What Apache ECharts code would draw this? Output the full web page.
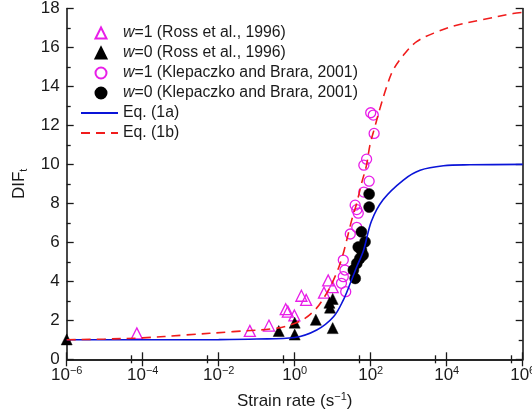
<!DOCTYPE html>
<html><head><meta charset="utf-8">
<script src="https://cdn.jsdelivr.net/npm/echarts@6/dist/echarts.min.js"></script>
<style>html,body{margin:0;padding:0;background:#fff}#c{width:532px;height:419px}</style>
</head><body><div id="c"></div>
<script>
// ---- data (strain rate [s^-1], DIF_t) ----
const rossW1 = [[7e-5,1.33],[0.066,1.46],[0.21,1.73],[0.58,2.57],[0.66,2.45],[0.98,2.25],[1.5,3.26],[2.0,3.05],[5.9,3.42],[7.6,4.05],[10,3.7]];
const rossW0 = [[1e-6,1.02],[0.38,1.45],[1.0,1.88],[1.0,1.27],[3.6,2.03],[8.5,2.65],[8.2,2.9],[10,3.1],[10,1.6]];
const klepW1 = [[100,12.65],[117,12.53],[123,11.59],[78,10.27],[66,9.96],[91,9.14],[66,8.58],[39,7.91],[43,7.68],[47,7.5],[43,6.77],[29,6.43],[19,5.09],[21,4.58],[19,4.24],[17,3.9],[22,3.47]];
const klepW0 = [[91,8.48],[91,7.81],[57,6.54],[71,6.03],[57,5.6],[63,5.35],[52,5.18],[47,5.76],[43,4.92],[35,4.58],[39,4.15]];
const eq1a = [[1e-6,1.0],[1e-4,1.0],[1e-2,1.01],[0.1,1.04],[1,1.12],[3.8,1.5],[10.5,2.18],[19,3.04],[29,3.9],[43,4.75],[65,5.6],[105,7.1],[214,8.2],[725,9.2],[2000,9.7],[8200,9.93],[41000,9.98],[1e6,10.0]];
const eq1b = [[1e-6,1.0],[1e-5,1.04],[1e-4,1.1],[1.4e-3,1.25],[2.4e-2,1.42],[0.34,1.6],[1.4,1.96],[3.4,2.53],[6.9,3.38],[11.5,4.24],[17.4,5.18],[23.4,6.12],[31.6,7.14],[42.7,8.0],[57.5,9.03],[77.6,9.96],[95.5,10.99],[129,11.93],[174,12.85],[263,13.98],[389,14.84],[724,15.6],[1620,16.3],[5500,16.8],[18200,17.14],[76000,17.4],[560000,17.74],[1e6,17.8]];
const seriesNames = ['w=1 (Ross et al., 1996)','w=0 (Ross et al., 1996)','w=1 (Klepaczko and Brara, 2001)','w=0 (Klepaczko and Brara, 2001)','Eq. (1a)','Eq. (1b)'];
const yTicks = [0,2,4,6,8,10,12,14,16,18];

const FONT = '"Liberation Sans", Arial, sans-serif';
const MAG = '#e81ee8', BLUE = '#0a14d8', RED = '#f01c1c', INK = '#1a1a1a';
const chart = echarts.init(document.getElementById('c'), null, {renderer:'canvas'});
const sup = {fontSize: 11, fontFamily: FONT, color: INK, verticalAlign: 'top', lineHeight: 12};
const base = {fontSize: 17, fontFamily: FONT, color: INK, lineHeight: 20};
function xLab(v){
  const e = Math.round(Math.log10(v));
  if (e % 2 !== 0) return '';
  return '{b|10}{s|' + (e < 0 ? '\u2212' + (-e) : String(e)) + '}';
}
const lineSt = {show:true, lineStyle:{color:INK, width:1.6}};
const xCommon = {type:'log', logBase:10, min:1e-6, max:1e6, interval:2, splitNumber:6,
  axisLine: lineSt, splitLine:{show:false},
  axisTick:{show:true, inside:true, length:7, lineStyle:{color:INK, width:1.3}},
  minorTick:{show:true, splitNumber:2, length:4, lineStyle:{color:INK, width:1.3}}, minorSplitLine:{show:false}};
const yCommon = {type:'value', min:0, max:18, interval:2,
  axisLine: lineSt, splitLine:{show:false},
  axisTick:{show:true, inside:true, length:7, lineStyle:{color:INK, width:1.3}},
  minorTick:{show:true, splitNumber:2, length:4, lineStyle:{color:INK, width:1.3}}, minorSplitLine:{show:false}};
const LFS = 15.8;
function legendFmt(n){ return n.charAt(0) === 'w' ? '{i|w}{t|' + n.slice(1) + '}' : '{t|' + n + '}'; }
function legendText(padLeft){
  return {fontFamily:FONT, fontSize:LFS, color:INK, lineHeight:20,
    rich:{
      i:{fontStyle:'italic', fontFamily:FONT, fontSize:LFS, color:INK, lineHeight:20, padding:[0,0,0,padLeft]},
      t:{fontFamily:FONT, fontSize:LFS, color:INK, lineHeight:20}
    }};
}

chart.setOption({
  animation:false,
  backgroundColor:'#fff',
  grid:{left:66.7, right:9.3, top:8.5, bottom:59.7, outerBoundsMode:'none', containLabel:false},
  legend:[
    {orient:'vertical', left:89.5, top:18, itemWidth:11, itemHeight:11, itemGap:0, padding:5,
      data: seriesNames.slice(0,4), formatter: legendFmt, textStyle: legendText(11.5), selectedMode:false},
    {orient:'vertical', left:75, top:98, itemWidth:37, itemHeight:11, itemGap:0, padding:5,
      data: seriesNames.slice(4).map(n => ({name:n, itemStyle:{opacity:0, color:'rgba(0,0,0,0)', borderWidth:0}})),
      formatter: legendFmt, textStyle: legendText(0), selectedMode:false}
  ],
  xAxis:[
    Object.assign({}, xCommon, {position:'bottom',
      name:'{n|Strain rate (s}{s|\u22121}{n|)}', nameLocation:'middle', nameGap:32,
      nameTextStyle:{rich:{n:{fontSize:17, fontFamily:FONT, color:INK, lineHeight:20}, s:{fontSize:11, fontFamily:FONT, color:INK, verticalAlign:'top', lineHeight:12}}},
      axisLabel:{show:true, margin:6, formatter:xLab, rich:{b:base, s:sup}}}),
    Object.assign({}, xCommon, {position:'top', axisLabel:{show:false}})
  ],
  yAxis:[
    Object.assign({}, yCommon, {position:'left',
      name:'{n|DIF}{s|t}', nameLocation:'middle', nameGap:37, nameRotate:90,
      nameTextStyle:{rich:{n:{fontSize:17, fontFamily:FONT, color:INK, lineHeight:20}, s:{fontSize:11, fontFamily:FONT, color:INK, verticalAlign:'bottom', lineHeight:16}}},
      axisLabel:{show:true, margin:7, fontSize:17, fontFamily:FONT, color:INK,
        formatter: v => yTicks.indexOf(v) >= 0 ? String(v) : ''}}),
    Object.assign({}, yCommon, {position:'right', axisLabel:{show:false}})
  ],
  series:[
    {name:seriesNames[0], type:'scatter', data:rossW1, symbol:'triangle', symbolSize:11,
      itemStyle:{color:'rgba(255,255,255,0)', borderColor:MAG, borderWidth:1.3, opacity:1}, z:2},
    {name:seriesNames[1], type:'scatter', data:rossW0, symbol:'triangle', symbolSize:11,
      itemStyle:{color:'#000', borderColor:'#000', borderWidth:0.5, opacity:1}, z:2},
    {name:seriesNames[2], type:'scatter', data:klepW1, symbol:'circle', symbolSize:10,
      itemStyle:{color:'rgba(255,255,255,0)', borderColor:MAG, borderWidth:1.3, opacity:1}, z:2},
    {name:seriesNames[3], type:'scatter', data:klepW0, symbol:'circle', symbolSize:11,
      itemStyle:{color:'#000', borderColor:'#000', borderWidth:0.5, opacity:1}, z:2},
    {name:seriesNames[4], type:'line', data:eq1a, showSymbol:false, symbol:'none', smooth:0.35,
      lineStyle:{color:BLUE, width:1.6}, itemStyle:{color:BLUE}, z:3},
    {name:seriesNames[5], type:'line', data:eq1b, showSymbol:false, symbol:'none', smooth:0.35,
      lineStyle:{color:RED, width:1.6, type:[9,6]}, itemStyle:{color:RED}, z:3}
  ]
});
</script>
</body></html>
